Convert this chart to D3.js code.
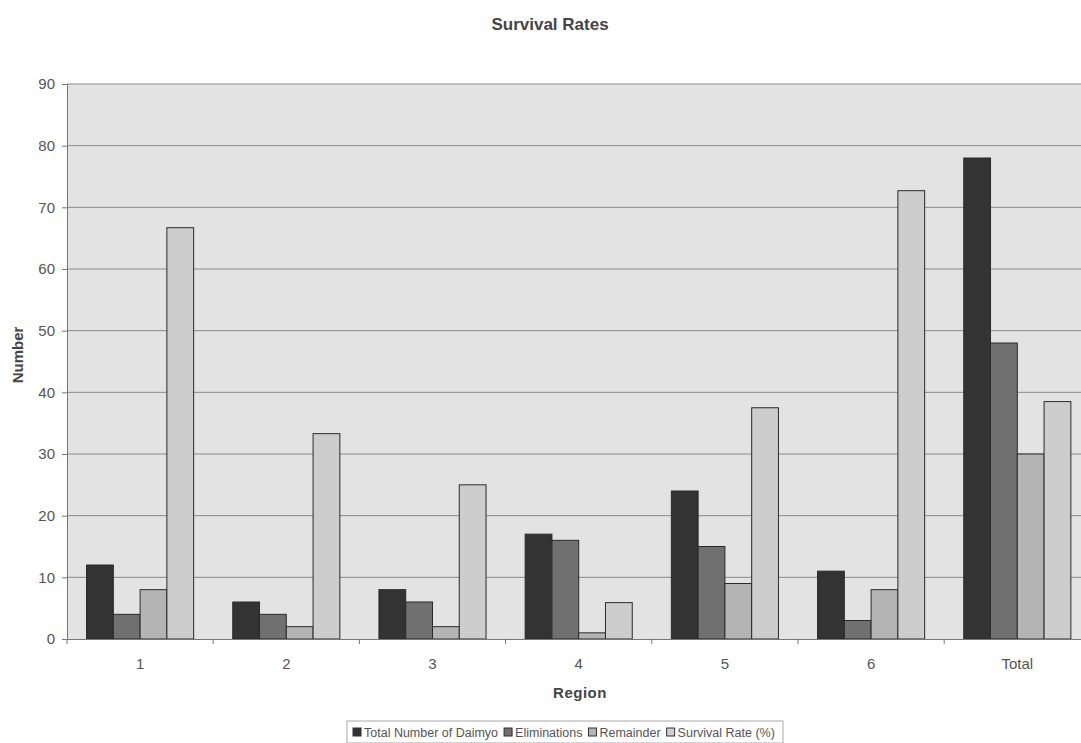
<!DOCTYPE html>
<html><head><meta charset="utf-8">
<script src="https://cdn.jsdelivr.net/npm/d3@7/dist/d3.min.js"></script>
<style>body{margin:0;background:#fff}svg{display:block}text{font-family:"Liberation Sans",Arial,sans-serif}</style>
</head><body><svg id="c" width="1081" height="743"></svg>
<script>
const categories = ["1","2","3","4","5","6","Total"];
const seriesNames = ["Total Number of Daimyo","Eliminations","Remainder","Survival Rate (%)"];
const totalDaimyo = [12,6,8,17,24,11,78];
const eliminations = [4,4,6,16,15,3,48];
const remainder = [8,2,2,1,9,8,30];
const survivalRate = [66.7,33.3,25,5.9,37.5,72.7,38.5];
const yTicks = [0,10,20,30,40,50,60,70,80,90];
const colors = ["#333333","#707070","#b4b4b4","#cdcdcd"];

const series = [totalDaimyo, eliminations, remainder, survivalRate];
const svg = d3.select("#c");
const L = 67, T = 84, B = 639, R = 67 + 7*146.2;

const x = d3.scaleBand().domain(categories).range([L, R]).paddingInner(0).paddingOuter(0);
const y = d3.scaleLinear().domain([0,90]).range([B, T]);
const inner = d3.scaleBand().domain(d3.range(4)).range([0, x.bandwidth()]).paddingOuter(0.73).paddingInner(0);

svg.append("rect").attr("x", L).attr("y", T).attr("width", R-L).attr("height", B-T).attr("fill", "#e3e3e3");

svg.append("g").selectAll("line").data(yTicks.slice(1)).join("line")
  .attr("x1", L).attr("x2", R).attr("y1", d=>y(d)).attr("y2", d=>y(d))
  .attr("stroke", "#8a8a8a").attr("stroke-width", 1);

const g = svg.append("g");
categories.forEach((c, ci) => {
  series.forEach((s, si) => {
    g.append("rect")
      .attr("x", x(c) + inner(si))
      .attr("y", y(s[ci]))
      .attr("width", inner.bandwidth())
      .attr("height", B - y(s[ci]))
      .attr("fill", colors[si])
      .attr("stroke", "#2a2a2a").attr("stroke-width", 1);
  });
});

const ya = svg.append("g").attr("transform", `translate(${L},0)`)
  .call(d3.axisLeft(y).tickValues(yTicks).tickSize(5).tickPadding(7));
ya.select(".domain").attr("stroke", "#777");
ya.selectAll(".tick line").attr("stroke", "#777");
ya.selectAll("text").attr("fill", "#555").style("font-size", "15px");

const xa = svg.append("g").attr("transform", `translate(0,${B})`)
  .call(d3.axisBottom(x).tickSize(0).tickPadding(19));
xa.select(".domain").attr("stroke", "#777");
xa.selectAll("text").attr("fill", "#555").style("font-size", "15px");
svg.append("g").selectAll("line").data(categories).join("line")
  .attr("x1", d=>x(d)).attr("x2", d=>x(d)).attr("y1", B).attr("y2", B+5)
  .attr("stroke", "#777");

svg.append("text").attr("x", 550).attr("y", 30).attr("text-anchor","middle")
  .attr("fill","#444").style("font-size","17px").style("font-weight","bold").text("Survival Rates");
svg.append("text").attr("x", 580).attr("y", 698).attr("text-anchor","middle")
  .attr("fill","#444").style("font-size","15px").style("font-weight","bold").style("letter-spacing","0.5px").text("Region");
svg.append("text").attr("transform","translate(23,355) rotate(-90)").attr("text-anchor","middle")
  .attr("fill","#444").style("font-size","15px").style("font-weight","bold").text("Number");

const lg = svg.append("g");
lg.append("rect").attr("x", 347).attr("y", 721).attr("width", 436).attr("height", 22)
  .attr("fill","#fff").attr("stroke","#aaa");
let lx = 353;
seriesNames.forEach((n, i) => {
  lg.append("rect").attr("x", lx).attr("y", 728).attr("width", 8).attr("height", 8)
    .attr("fill", colors[i]).attr("stroke", "#333");
  const t = lg.append("text").attr("x", lx + 11).attr("y", 737).attr("fill","#555")
    .style("font-size","12.5px").text(n);
  lx += t.node().getComputedTextLength() + 17;
});
</script></body></html>
